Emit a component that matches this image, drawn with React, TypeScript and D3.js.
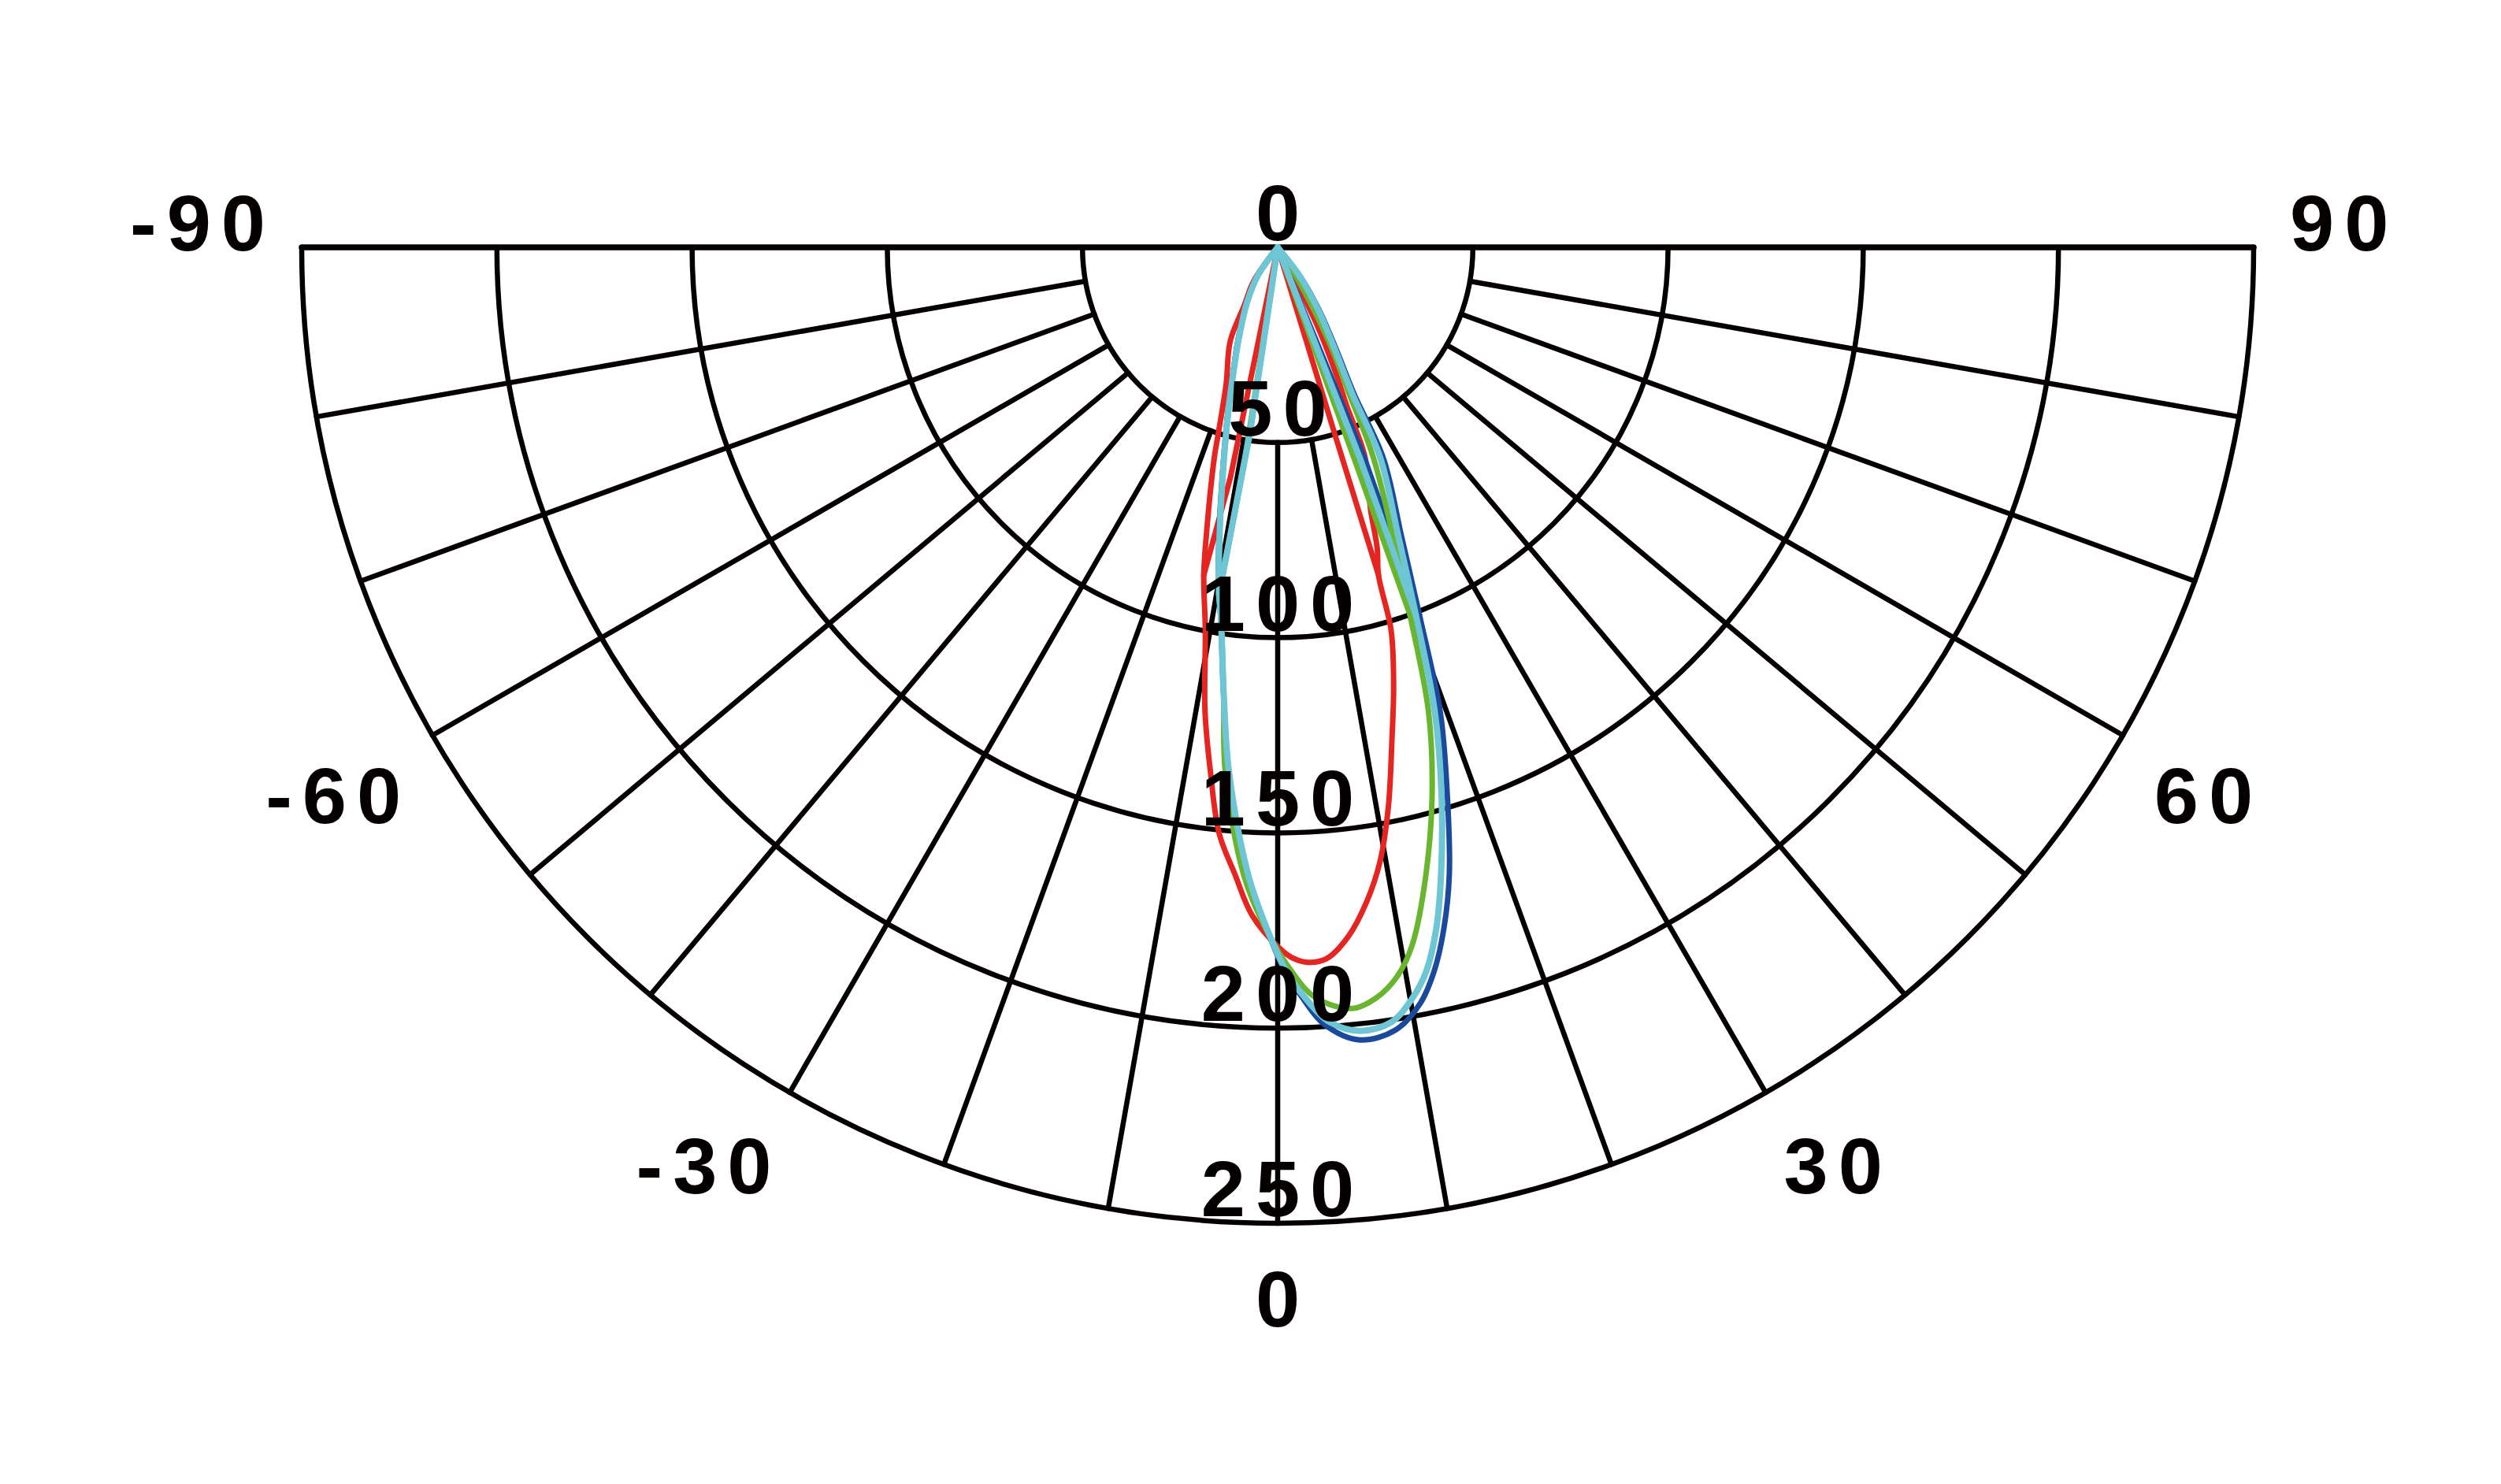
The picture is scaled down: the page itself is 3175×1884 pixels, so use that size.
import React, { useRef, useEffect } from 'react';
import * as d3 from 'd3';

// [angle in degrees from nadir (right = positive), intensity]
type Pt = [number, number];

const ringValues = [50, 100, 150, 200, 250];
const spokeAngles = [-80, -70, -60, -50, -40, -30, -20, -10, 0, 10, 20, 30, 40, 50, 60, 70, 80];
const angleLabels = [-90, -60, -30, 0, 30, 60, 90];

// red
const redLeftOuter: Pt[] = [[-40, 0], [-35.4, 10.6], [-30, 17], [-26.8, 27], [-20.7, 37.3], [-17.7, 50], [-16.8, 56.1], [-13.9, 76.1]];
const redLower: Pt[] = [[-12.7, 86.1], [-10.7, 99.8], [-8.9, 120.3], [-7.3, 135.5], [-5.7, 150.9], [-3.9, 161], [-2.2, 171.2], [0.1, 179.4], [1.1, 181.9], [2.4, 183.3], [3.95, 182.6], [5.84, 177.5], [7.76, 169.1], [9.49, 159.3], [11.2, 146], [13.1, 129.2], [14.85, 115.9], [16.5, 102.3], [17.1, 87.8]];
const redRightOuter: Pt[] = [[18.3, 81.2], [19.5, 71.3], [22.6, 58.2], [23.5, 44.6], [24.7, 36.1], [26.6, 24], [28, 12], [30, 0]];
const redLeftInner: Pt[] = [[-11.5, 0], [-11.6, 60], [-12.7, 86.1]];
const redRightInner: Pt[] = [[17.1, 87.8], [17, 50], [17, 0]];

// green
const greenLeftOuter: Pt[] = [[-40, 0], [-35.1, 8.9], [-29.2, 16], [-23.4, 24.8], [-19.9, 32.8], [-17, 42.8], [-14.6, 54], [-11.4, 75.3]];
const greenLower: Pt[] = [[-9.6, 90], [-8.8, 95.2], [-6.9, 115.1], [-5.7, 135.2], [-3.1, 161], [-1.0, 174.6], [1.1, 185.5], [2.9, 192.5], [5.6, 195.9], [7.5, 193.9], [9.3, 189.3], [10.9, 182.1], [13.3, 165.1], [15.8, 145.3], [18.0, 125], [19.8, 100]];
const greenRightOuter: Pt[] = [[21.8, 79.4], [24.5, 58.9], [26, 42], [28.5, 27.4], [32, 10], [35, 0]];
const greenLeftInner: Pt[] = [[-8.6, 0], [-8.8, 55], [-9.6, 90]];
const greenRightInner: Pt[] = [[19.8, 100], [19.9, 57], [19.9, 0]];

// dark blue
const blueLeftOuter: Pt[] = [[-40, 0], [-35.5, 9], [-29.5, 16], [-23.6, 25], [-20, 33], [-17.1, 43], [-14.7, 54], [-11.5, 75.5]];
const blueLower: Pt[] = [[-9.6, 90], [-8.8, 95.5], [-6.9, 115.3], [-5.3, 135.2], [-2.7, 161], [-0.9, 174.8], [0.6, 185.6], [1.9, 192.4], [3.4, 199.3], [5.9, 204.1], [8.6, 202.7], [10.7, 197], [12.2, 189.7], [13.7, 179.7], [15.3, 166.6], [17.5, 143.9], [19.3, 125.9], [21.1, 100.8]];
const blueRightOuter: Pt[] = [[23.2, 80.5], [26.6, 60.5], [27.5, 42.5], [30, 29.5], [33.4, 19.3], [37.5, 10], [40.5, 0]];
const blueLeftInner: Pt[] = [[-8.3, 0], [-8.5, 48], [-9.6, 90]];
const blueRightInner: Pt[] = [[21.1, 100.8], [22.4, 58], [22.4, 0]];

// light blue
const cyanLeftOuter: Pt[] = [[-40, 0], [-35.1, 8.9], [-29.2, 16], [-23.4, 24.8], [-19.9, 32.8], [-17, 42.8], [-14.6, 54], [-11.4, 75.3]];
const cyanLower: Pt[] = [[-9.6, 90], [-8.8, 95.2], [-6.9, 115.1], [-5.3, 135], [-2.7, 160.8], [-0.9, 174.6], [0.7, 185.5], [2.1, 192.4], [3.8, 198.8], [6.0, 201.8], [8.4, 200.5], [10.2, 195.3], [11.6, 189.3], [13.1, 179.2], [14.6, 166], [16.7, 146], [18.7, 125.5], [20.6, 100.5]];
const cyanRightOuter: Pt[] = [[22.7, 79.9], [26, 59.8], [27, 42.1], [29.5, 29.2], [32.9, 19.1], [37, 10], [40, 0]];
const cyanLeftInner: Pt[] = [[-8.3, 0], [-8.5, 48.2], [-9.6, 90]];
const cyanRightInner: Pt[] = [[20.6, 100.5], [21.3, 57.7], [21.3, 0]];

const series = [
  { color: '#e52521', width: 7, leftOuter: redLeftOuter, lower: redLower, rightOuter: redRightOuter, leftInner: redLeftInner, rightInner: redRightInner },
  { color: '#1b4a9c', width: 7, leftOuter: blueLeftOuter, lower: blueLower, rightOuter: blueRightOuter, leftInner: blueLeftInner, rightInner: blueRightInner },
  { color: '#6ab52f', width: 7, leftOuter: greenLeftOuter, lower: greenLower, rightOuter: greenRightOuter, leftInner: greenLeftInner, rightInner: greenRightInner },
  { color: '#6ec5d3', width: 8, leftOuter: cyanLeftOuter, lower: cyanLower, rightOuter: cyanRightOuter, leftInner: cyanLeftInner, rightInner: cyanRightInner },
];

const W = 3175;
const H = 1884;

const PolarChart: React.FC = () => {
  const svgRef = useRef<SVGSVGElement>(null);

  useEffect(() => {
    if (!svgRef.current) return;
    const svg = d3.select(svgRef.current);
    svg.selectAll('*').remove();

    const cx = 1622;
    const cy = 314;
    const r = d3.scaleLinear().domain([0, 250]).range([0, 1239]);
    const R = r(250);
    const rad = (deg: number) => (deg * Math.PI) / 180;
    const font = "'Liberation Sans', Arial, sans-serif";
    const spacing = 13;

    const g = svg.append('g').attr('transform', `translate(${cx},${cy})`);

    // grid
    const grid = g.append('g').attr('fill', 'none').attr('stroke', '#050000').attr('stroke-linecap', 'round');
    ringValues.forEach((v) => {
      const p = d3.path();
      p.moveTo(r(v), 0);
      p.arc(0, 0, r(v), 0, Math.PI);
      grid.append('path').attr('d', p.toString()).attr('stroke-width', 6.5);
    });
    spokeAngles.forEach((a) => {
      grid.append('line')
        .attr('x1', r(50) * Math.sin(rad(a)))
        .attr('y1', r(50) * Math.cos(rad(a)))
        .attr('x2', R * Math.sin(rad(a)))
        .attr('y2', R * Math.cos(rad(a)))
        .attr('stroke-width', 6.5);
    });
    grid.append('line').attr('x1', -R).attr('x2', R).attr('y1', 0).attr('y2', 0).attr('stroke-width', 7.5);

    // curves
    const line = d3.lineRadial<Pt>()
      .angle((d) => Math.PI - rad(d[0]))
      .radius((d) => r(d[1]))
      .curve(d3.curveCatmullRom.alpha(0.5));
    const straight = d3.lineRadial<Pt>()
      .angle((d) => Math.PI - rad(d[0]))
      .radius((d) => r(d[1]));

    series.forEach((s) => {
      const cg = g.append('g')
        .attr('fill', 'none')
        .attr('stroke', s.color)
        .attr('stroke-width', s.width)
        .attr('stroke-linejoin', 'round')
        .attr('stroke-linecap', 'round');
      cg.append('path').attr('d', line([...s.leftOuter, ...s.lower, ...s.rightOuter]) || '');
      cg.append('path').attr('d', straight(s.leftInner) || '');
      cg.append('path').attr('d', straight(s.rightInner) || '');
    });

    // labels
    const text = g.append('g')
      .attr('font-family', font)
      .attr('font-weight', 'bold')
      .attr('font-size', 101)
      .attr('letter-spacing', spacing)
      .attr('fill', '#050000');
    ringValues.forEach((v) => {
      text.append('text')
        .attr('x', spacing / 2)
        .attr('y', r(v) - 9)
        .attr('text-anchor', 'middle')
        .text(String(v));
    });

    const labelR = R + 46;
    text.append('text').attr('x', spacing / 2).attr('y', -9).attr('text-anchor', 'middle').text('0');
    angleLabels.forEach((a) => {
      const x = labelR * Math.sin(rad(a));
      const y = Math.abs(a) === 90 ? 4 : labelR * Math.cos(rad(a)) + (a === 0 ? 85 : 88);
      text.append('text')
        .attr('x', a < 0 ? x + spacing : a > 0 ? x : x + spacing / 2)
        .attr('y', y)
        .attr('text-anchor', a < 0 ? 'end' : a > 0 ? 'start' : 'middle')
        .text(String(a));
    });
  }, []);

  return <svg ref={svgRef} width={W} height={H} style={{ display: 'block', background: '#fff' }} />;
};

export default function App() {
  return (
    <div style={{ position: 'absolute', left: 0, top: 0, width: W, height: H, background: '#fff' }}>
      <PolarChart />
    </div>
  );
}
